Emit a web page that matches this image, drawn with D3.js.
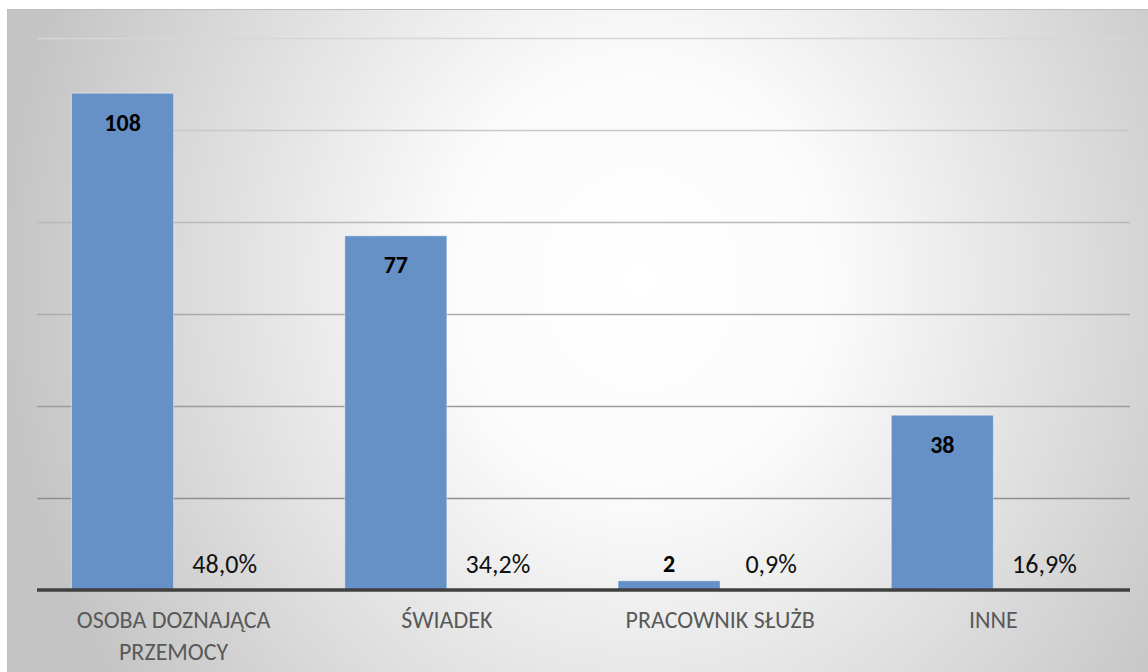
<!DOCTYPE html>
<html>
<head>
<meta charset="utf-8">
<script src="https://cdn.jsdelivr.net/npm/d3@7"></script>
<style>
	html, body { margin: 0; padding: 0; background: #fff; }
	svg { display: block; font-family: Carlito, Calibri, Lato, sans-serif; }
</style>
</head>
<body>
<div id="chart"></div>
<script>
// dane z wykresu
const categories = ['OSOBA DOZNAJĄCA PRZEMOCY', 'ŚWIADEK', 'PRACOWNIK SŁUŻB', 'INNE'];
const categoryLines = [['OSOBA DOZNAJĄCA', 'PRZEMOCY'], ['ŚWIADEK'], ['PRACOWNIK SŁUŻB'], ['INNE']];
const counts = [108, 77, 2, 38];
const shares = [0.480, 0.342, 0.009, 0.169];
const yTicks = [0, 20, 40, 60, 80, 100, 120];

const width = 1148;
const height = 672;
const margin = { top: 38, right: 18, bottom: 82, left: 37 };

const svg = d3.select('#chart')
	.append('svg')
		.attr('width', width)
		.attr('height', height);

const defs = svg.append('defs');
const bg = defs.append('radialGradient')
	.attr('id', 'bg')
	.attr('gradientUnits', 'userSpaceOnUse')
	.attr('cx', 0).attr('cy', 0).attr('r', 1)
	.attr('gradientTransform', 'translate(640,280) scale(640,720)');
bg.append('stop').attr('offset', 0).attr('stop-color', '#ffffff');
bg.append('stop').attr('offset', 0.3).attr('stop-color', '#fbfbfb');
bg.append('stop').attr('offset', 1).attr('stop-color', '#c4c4c4');

// tło obszaru wykresu
svg.append('rect')
	.attr('x', 7.5).attr('y', 9.5)
	.attr('width', width - 7).attr('height', height - 9)
	.attr('fill', 'url(#bg)')
	.attr('stroke', '#bfbfbf')
	.attr('stroke-width', 1);

const x0 = d3.scaleBand()
	.domain(categories)
	.range([margin.left, width - margin.right])
	.paddingInner(0.2527)
	.paddingOuter(0.2527 / 2);

const x1 = d3.scaleBand()
	.domain(['count', 'share'])
	.range([0, x0.bandwidth()]);

const y = d3.scaleLinear()
	.domain([0, 120])
	.range([height - margin.bottom - 0, margin.top]);

// kolor linii siatki jaśnieje ku górze
const gridColor = d3.scaleLinear()
	.domain([20, 120])
	.range(['#8e8e8e', '#d6d6d6']);

// linie siatki
const grid = svg.append('g')
	.attr('transform', `translate(${margin.left},0)`)
	.call(d3.axisLeft(y)
		.tickValues(yTicks.filter(d => d > 0))
		.tickSize(-(width - margin.left - margin.right))
		.tickFormat(''));
grid.select('.domain').remove();
grid.selectAll('line')
	.attr('stroke', d => gridColor(d))
	.attr('stroke-width', 1.5);

const groups = svg.append('g')
	.selectAll('g')
	.data(categories)
	.join('g')
		.attr('transform', d => `translate(${x0(d)},0)`);

// słupki liczby zgłoszeń
groups.append('rect')
	.attr('x', x1('count'))
	.attr('y', (d, i) => y(counts[i]))
	.attr('width', x1.bandwidth())
	.attr('height', (d, i) => y(0) - y(counts[i]))
	.attr('fill', '#6591c6')
	.attr('stroke', 'rgba(255,255,255,0.45)')
	.attr('stroke-width', 1);

// drugi szereg (odsetek) - bez wypełnienia
groups.append('rect')
	.attr('x', x1('share'))
	.attr('y', (d, i) => y(shares[i]))
	.attr('width', x1.bandwidth())
	.attr('height', (d, i) => y(0) - y(shares[i]))
	.attr('fill', 'none');

const labelY = v => Math.min(y(v) + 29, y(0) - 26);

groups.append('text')
	.attr('x', x1('count') + x1.bandwidth() / 2)
	.attr('y', (d, i) => labelY(counts[i]))
	.attr('dy', '0.35em')
	.attr('text-anchor', 'middle')
	.style('font-size', '24px')
	.style('font-weight', 'bold')
	.attr('fill', '#000')
	.text((d, i) => counts[i]);

const pct = d3.format('.1%');
groups.append('text')
	.attr('x', x1('share') + x1.bandwidth() / 2)
	.attr('y', (d, i) => labelY(shares[i]))
	.attr('dy', '0.35em')
	.attr('text-anchor', 'middle')
	.style('font-size', '26px')
	.attr('fill', '#111')
	.text((d, i) => pct(shares[i]).replace('.', ','));

// oś X
svg.append('line')
	.attr('x1', margin.left)
	.attr('x2', width - margin.right)
	.attr('y1', y(0))
	.attr('y2', y(0))
	.attr('stroke', '#404040')
	.attr('stroke-width', 3.5);

groups.append('text')
	.attr('x', x0.bandwidth() / 2)
	.attr('y', y(0) + 30)
	.attr('text-anchor', 'middle')
	.style('font-size', '24px')
	.attr('fill', '#595959')
	.selectAll('tspan')
	.data((d, i) => categoryLines[i])
	.join('tspan')
		.attr('x', x0.bandwidth() / 2)
		.attr('dy', (d, i) => i === 0 ? '0.35em' : '32px')
		.text(d => d);
</script>
</body>
</html>
